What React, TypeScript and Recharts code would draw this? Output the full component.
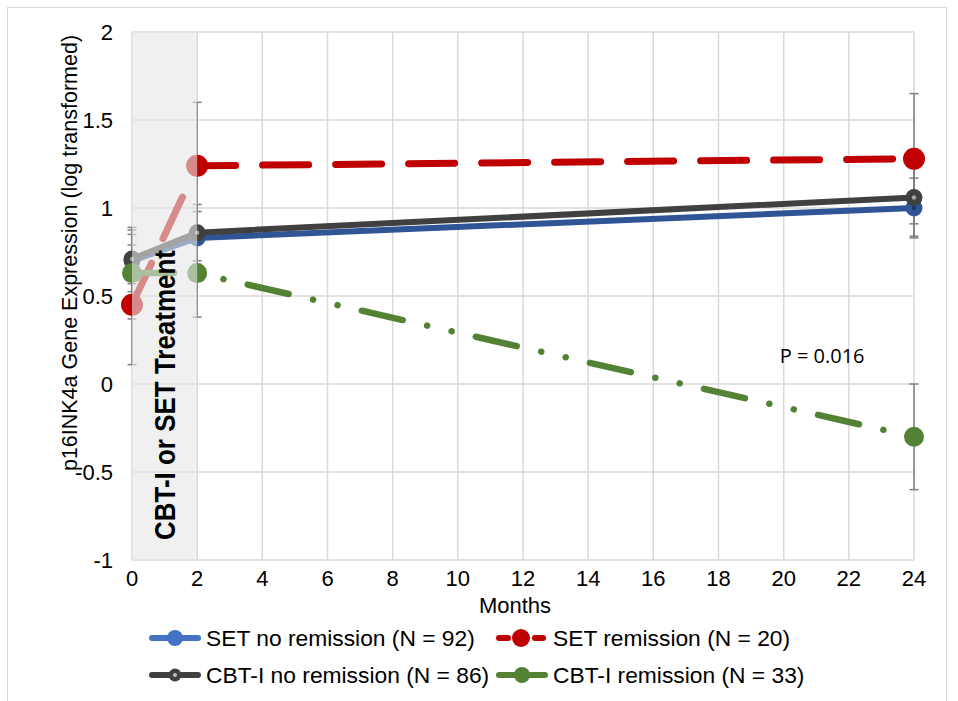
import React from 'react'
import {
  LineChart,
  Line,
  XAxis,
  YAxis,
  CartesianGrid,
  ReferenceArea,
  ReferenceDot,
  ErrorBar,
  Label,
} from 'recharts'

const months = [0, 2, 24]

const setNoRemission = [0.7, 0.83, 1.0]
const setNoRemissionErr = [0.175, 0.15, 0.17]
const setRemission = [0.45, 1.24, 1.28]
const setRemissionErr = [0.34, 0.36, 0.37]
const cbtNoRemission = [0.71, 0.86, 1.06]
const cbtNoRemissionErr = [0.14, 0.16, 0.22]
const cbtRemission = [0.63, 0.63, -0.3]
const cbtRemissionErr = [0.26, 0.25, 0.3]

const xTicks = [0, 2, 4, 6, 8, 10, 12, 14, 16, 18, 20, 22, 24]
const yTicks = [-1, -0.5, 0, 0.5, 1, 1.5, 2]

const legendItems = [
  { name: 'SET no remission (N = 92)', color: '#4472C4', kind: 'solid' },
  { name: 'SET remission (N = 20)', color: '#C00000', kind: 'dash' },
  { name: 'CBT-I no remission (N = 86)', color: '#404040', kind: 'ring' },
  { name: 'CBT-I remission (N = 33)', color: '#548235', kind: 'solid' },
]

const data = months.map((m, i) => ({
  month: m,
  setNo: setNoRemission[i],
  setNoErr: setNoRemissionErr[i],
  setRem: setRemission[i],
  setRemErr: setRemissionErr[i],
  cbtNo: cbtNoRemission[i],
  cbtNoErr: cbtNoRemissionErr[i],
  cbtRem: cbtRemission[i],
  cbtRemErr: cbtRemissionErr[i],
}))

const FONT = '"Liberation Sans", Arial, sans-serif'
const ERR = '#7F7F7F'

// marker with a small contrasting centre, like the Excel markers
function makeDot(fill: string, r: number, centre?: string) {
  // eslint-disable-next-line @typescript-eslint/no-explicit-any
  return (props: any) => {
    const { cx, cy, index } = props
    if (cx == null || cy == null) return <g key={`d-${index}`} />
    return (
      <g key={`d-${index}`}>
        <circle cx={cx} cy={cy} r={r} fill={fill} />
        {centre && <circle cx={cx} cy={cy} r={2.2} fill={centre} />}
      </g>
    )
  }
}

// eslint-disable-next-line @typescript-eslint/no-explicit-any
function TreatmentLabel(props: any) {
  const vb = props.viewBox
  const x = vb.x + vb.width / 2
  const y = vb.y + vb.height - 20
  return (
    <text
      x={x}
      y={y}
      transform={`rotate(-90 ${x} ${y})`}
      fontFamily={FONT}
      fontWeight="bold"
      fontSize={29}
      textLength={290}
      lengthAdjust="spacingAndGlyphs"
      dominantBaseline="central"
      fill="#000"
    >
      CBT-I or SET Treatment
    </text>
  )
}

// eslint-disable-next-line @typescript-eslint/no-explicit-any
function YTitle(props: any) {
  const vb = props.viewBox
  const x = vb.x + 70
  const y = vb.y + vb.height / 2 - 43
  return (
    <text
      x={x}
      y={y}
      transform={`rotate(-90 ${x} ${y})`}
      textAnchor="middle"
      dominantBaseline="central"
      fontFamily={FONT}
      fontSize={21.5}
      fill="#000"
    >
      p16INK4a Gene Expression (log transformed)
    </text>
  )
}

// eslint-disable-next-line @typescript-eslint/no-explicit-any
function XTitle(props: any) {
  const vb = props.viewBox
  const x = vb.x + vb.width / 2 - 8
  const y = vb.y + 45
  return (
    <text x={x} y={y} textAnchor="middle" dominantBaseline="central" fontFamily={FONT} fontSize={22} fill="#000">
      Months
    </text>
  )
}

function LegendSymbol({ color, kind }: { color: string; kind: string }) {
  return (
    <svg width={54} height={22} style={{ display: 'block' }}>
      {kind === 'dash' ? (
        <>
          <line x1={4} y1={11} x2={13} y2={11} stroke={color} strokeWidth={6} strokeLinecap="round" />
          <line x1={40} y1={11} x2={48} y2={11} stroke={color} strokeWidth={6} strokeLinecap="round" />
          <circle cx={26} cy={11} r={9} fill={color} />
        </>
      ) : (
        <>
          <line x1={4} y1={11} x2={50} y2={11} stroke={color} strokeWidth={6} strokeLinecap="round" />
          <circle cx={27} cy={11} r={kind === 'ring' ? 6.5 : 8} fill={color} />
          {kind === 'ring' && <circle cx={27} cy={11} r={2} fill="#BFBFBF" />}
        </>
      )}
    </svg>
  )
}

export default function App() {
  return (
    <div style={{ position: 'absolute', left: 0, top: 0, width: 958, height: 701, background: '#fff', overflow: 'hidden' }}>
      <div
        style={{
          position: 'absolute',
          left: 7,
          top: 7,
          width: 940,
          height: 700,
          border: '1px solid #D9D9D9',
          boxSizing: 'border-box',
        }}
      />
      <div style={{ position: 'absolute', left: 0, top: 0 }}>
        <LineChart width={958} height={620} data={data} margin={{ top: 32, right: 44, bottom: 0, left: 0 }}>
          <CartesianGrid stroke="#D9D9D9" strokeWidth={1.5} />
          <XAxis
            dataKey="month"
            type="number"
            domain={[0, 24]}
            ticks={xTicks}
            interval={0}
            axisLine={false}
            tickLine={false}
            tickSize={0}
            tickMargin={10}
            height={60}
            tick={{ fontSize: 22, fill: '#000', fontFamily: FONT }}
          >
            <Label content={XTitle} />
          </XAxis>
          <YAxis
            type="number"
            domain={[-1, 2]}
            ticks={yTicks}
            interval={0}
            axisLine={false}
            tickLine={false}
            tickSize={0}
            tickMargin={19}
            width={132}
            allowDataOverflow
            tick={{ fontSize: 22, fill: '#000', fontFamily: FONT }}
          >
            <Label content={YTitle} />
          </YAxis>

          <Line
            dataKey="setNo"
            stroke="#2F5597"
            strokeWidth={6}
            strokeLinecap="round"
            dot={makeDot('#2F5597', 8.5, '#1F3864')}
            activeDot={false}
            isAnimationActive={false}
          >
            <ErrorBar dataKey="setNoErr" direction="y" width={4.5} stroke={ERR} strokeWidth={1.5} />
          </Line>
          <Line
            dataKey="setRem"
            stroke="#C00000"
            strokeWidth={7}
            strokeLinecap="round"
            strokeDasharray="46 27"
            dot={makeDot('#C00000', 11)}
            activeDot={false}
            isAnimationActive={false}
          >
            <ErrorBar dataKey="setRemErr" direction="y" width={4.5} stroke={ERR} strokeWidth={1.5} />
          </Line>
          <Line
            dataKey="cbtNo"
            stroke="#404040"
            strokeWidth={6}
            strokeLinecap="round"
            dot={makeDot('#404040', 8.5, '#A6A6A6')}
            activeDot={false}
            isAnimationActive={false}
          >
            <ErrorBar dataKey="cbtNoErr" direction="y" width={4.5} stroke={ERR} strokeWidth={1.5} />
          </Line>
          <Line
            dataKey="cbtRem"
            stroke="#548235"
            strokeWidth={6.5}
            strokeLinecap="round"
            strokeDasharray="42 25 0.1 25 0.1 24.8"
            dot={makeDot('#548235', 10)}
            activeDot={false}
            isAnimationActive={false}
          >
            <ErrorBar dataKey="cbtRemErr" direction="y" width={4.5} stroke={ERR} strokeWidth={1.5} />
          </Line>

          {/* translucent treatment-period panel drawn over the lines */}
          <ReferenceArea x1={0} x2={2} y1={-1} y2={2} fill="#E6E6E6" fillOpacity={0.6} stroke="none" zIndex={900}>
            <Label content={TreatmentLabel} />
          </ReferenceArea>

          <ReferenceDot x={21.18} y={0.16} r={1} fill="none" stroke="none">
            <Label value="P = 0.016" position="center" fontFamily='"Open Sans", sans-serif' fontSize={20} fill="#000" />
          </ReferenceDot>
        </LineChart>
      </div>

      <div
        style={{
          position: 'absolute',
          left: 148,
          top: 627,
          display: 'grid',
          gridTemplateColumns: '347px auto',
          rowGap: 15,
          fontFamily: FONT,
          fontSize: 22.8,
          color: '#000',
        }}
      >
        {legendItems.map((it) => (
          <div key={it.name} style={{ display: 'flex', alignItems: 'center', height: 22 }}>
            <LegendSymbol color={it.color} kind={it.kind} />
            <span style={{ marginLeft: 4, whiteSpace: 'nowrap' }}>{it.name}</span>
          </div>
        ))}
      </div>
    </div>
  )
}
